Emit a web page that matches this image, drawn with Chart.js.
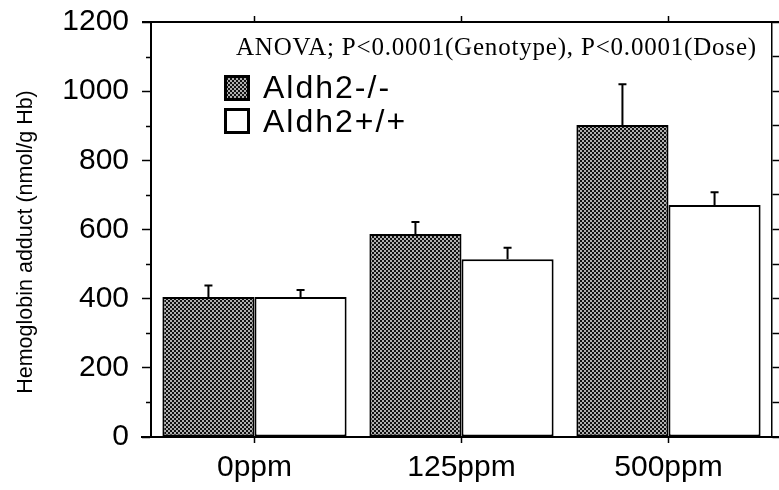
<!DOCTYPE html>
<html>
<head>
<meta charset="utf-8">
<script src="https://cdn.jsdelivr.net/npm/chart.js@4/dist/chart.umd.min.js"></script>
<style>
html,body{margin:0;padding:0;background:#fff;}
#wrap{width:779px;height:490px;}
</style>
</head>
<body>
<div id="wrap"><canvas id="c" width="779" height="490"></canvas></div>
<script>
const categories = ['0ppm', '125ppm', '500ppm'];
const knockoutLabel = 'Aldh2-/-';
const wildLabel = 'Aldh2+/+';
const knockoutValues = [405, 587, 902];
const knockoutErrors = [33, 35, 118];
const wildValues = [405, 514, 671];
const wildErrors = [20, 33, 37];
const yTickLabels = [0, 200, 400, 600, 800, 1000, 1200];
const yTitle = 'Hemoglobin adduct (nmol/g Hb)';
const annotation = 'ANOVA; P<0.0001(Genotype), P<0.0001(Dose)';

const SANS = '"Liberation Sans", Arial, sans-serif';

function makePattern() {
  const p = document.createElement('canvas');
  p.width = 4; p.height = 4;
  const g = p.getContext('2d');
  g.fillStyle = '#b0b0b0';
  g.fillRect(0, 0, 4, 4);
  g.fillStyle = '#111';
  g.fillRect(0, 0, 2, 2);
  g.fillRect(2, 2, 2, 2);
  return document.getElementById('c').getContext('2d').createPattern(p, 'repeat');
}
const pattern = makePattern();

const errorBars = {
  id: 'errorBars',
  afterDatasetsDraw(chart) {
    const ctx = chart.ctx;
    const y = chart.scales.y;
    ctx.save();
    ctx.strokeStyle = '#000';
    ctx.lineWidth = 2;
    chart.data.datasets.forEach((ds, i) => {
      const meta = chart.getDatasetMeta(i);
      meta.data.forEach((bar, j) => {
        const top = y.getPixelForValue(ds.data[j] + ds.errors[j]);
        ctx.beginPath();
        ctx.moveTo(bar.x, bar.y);
        ctx.lineTo(bar.x, top);
        ctx.moveTo(bar.x - 4, top);
        ctx.lineTo(bar.x + 4, top);
        ctx.stroke();
      });
    });
    ctx.restore();
  }
};

const decorations = {
  id: 'decorations',
  afterDraw(chart) {
    const ctx = chart.ctx;
    const a = chart.chartArea;
    const y = chart.scales.y;
    ctx.save();
    ctx.strokeStyle = '#000';
    ctx.lineWidth = 2;
    ctx.beginPath();
    ctx.moveTo(141, a.bottom); ctx.lineTo(779, a.bottom);
    ctx.moveTo(142, a.top); ctx.lineTo(779, a.top);
    ctx.stroke();
    ctx.lineWidth = 1.5;
    ctx.beginPath();
    for (let v = 100; v < 1200; v += 200) {
      const py = Math.round(y.getPixelForValue(v)) + 0.5;
      ctx.moveTo(a.left - 5, py); ctx.lineTo(a.left, py);
    }
    ctx.stroke();
    ctx.fillStyle = '#000';
    ctx.font = '21.5px ' + SANS;
    ctx.textAlign = 'center';
    ctx.textBaseline = 'middle';
    ctx.translate(26, 242);
    ctx.rotate(-Math.PI / 2);
    ctx.fillText(yTitle, 0, 0);
    ctx.restore();

    ctx.save();
    ctx.fillStyle = '#000';
    ctx.font = '25px "Liberation Serif", "Times New Roman", serif';
    ctx.letterSpacing = '0.8px';
    ctx.textAlign = 'left';
    ctx.textBaseline = 'alphabetic';
    ctx.fillText(annotation, 236, 55);
    ctx.restore();

    ctx.save();
    const items = chart.data.datasets.map(d => ({ label: d.label, fill: d.backgroundColor }));
    const rows = [{ by: 75, base: 98 }, { by: 108, base: 132 }];
    items.forEach((it, i) => {
      const r = rows[i];
      ctx.fillStyle = it.fill;
      ctx.fillRect(224, r.by, 26, 26);
      ctx.strokeStyle = '#000';
      ctx.lineWidth = 3;
      ctx.strokeRect(225.5, r.by + 1.5, 23, 23);
      ctx.fillStyle = '#000';
      ctx.font = '32px ' + SANS;
      ctx.letterSpacing = '2px';
      ctx.textBaseline = 'alphabetic';
      ctx.textAlign = 'left';
      ctx.fillText(it.label, 263, r.base);
    });
    ctx.restore();
  }
};

const tickFont = { family: SANS, size: 30 };

new Chart(document.getElementById('c'), {
  type: 'bar',
  data: {
    labels: categories,
    datasets: [
      {
        label: knockoutLabel,
        data: knockoutValues,
        errors: knockoutErrors,
        backgroundColor: pattern,
        borderColor: '#000',
        borderWidth: 2,
        borderSkipped: false,
        categoryPercentage: 0.89,
        barPercentage: 1.0
      },
      {
        label: wildLabel,
        data: wildValues,
        errors: wildErrors,
        backgroundColor: '#ffffff',
        borderColor: '#000',
        borderWidth: 2,
        borderSkipped: false,
        categoryPercentage: 0.89,
        barPercentage: 1.0
      }
    ]
  },
  options: {
    responsive: false,
    animation: false,
    devicePixelRatio: 1,
    layout: { padding: 0 },
    plugins: {
      legend: { display: false },
      tooltip: { enabled: false },
      title: { display: false }
    },
    scales: {
      x: {
        position: 'bottom',
        offset: true,
        grid: { display: true, drawOnChartArea: false, offset: false, tickLength: 6, tickColor: '#000', tickWidth: 1.5 },
        border: { display: true, color: '#000', width: 2 },
        ticks: { color: '#000', font: tickFont, padding: 7, maxRotation: 0 },
        afterFit(s) { s.height = 53; s.paddingLeft = 0; s.paddingRight = 0; }
      },
      x2: {
        type: 'category',
        labels: categories,
        position: 'top',
        offset: true,
        grid: { display: true, drawOnChartArea: false, offset: false, tickLength: 6, tickColor: '#000', tickWidth: 1.5 },
        border: { display: true, color: '#000', width: 2 },
        ticks: { display: false },
        afterFit(s) { s.height = 22; s.paddingLeft = 0; s.paddingRight = 0; }
      },
      y: {
        position: 'left',
        min: 0,
        max: 1200,
        afterBuildTicks(s) { s.ticks = yTickLabels.map(v => ({ value: v })); },
        grid: { display: true, drawOnChartArea: false, tickLength: 9, tickColor: '#000', tickWidth: 1.5 },
        border: { display: true, color: '#000', width: 2 },
        ticks: { color: '#000', font: tickFont, padding: 13, callback: v => String(v) },
        afterFit(s) { s.width = 151; s.paddingTop = 0; s.paddingBottom = 0; }
      },
      y2: {
        position: 'right',
        min: 0,
        max: 1200,
        ticks: { display: false, stepSize: 100 },
        grid: { display: true, drawOnChartArea: false, tickLength: 7, tickColor: '#000', tickWidth: 1.5 },
        border: { display: true, color: '#000', width: 1.5 },
        afterFit(s) { s.width = 7; s.paddingTop = 0; s.paddingBottom = 0; }
      }
    }
  },
  plugins: [errorBars, decorations]
});
</script>
</body>
</html>
